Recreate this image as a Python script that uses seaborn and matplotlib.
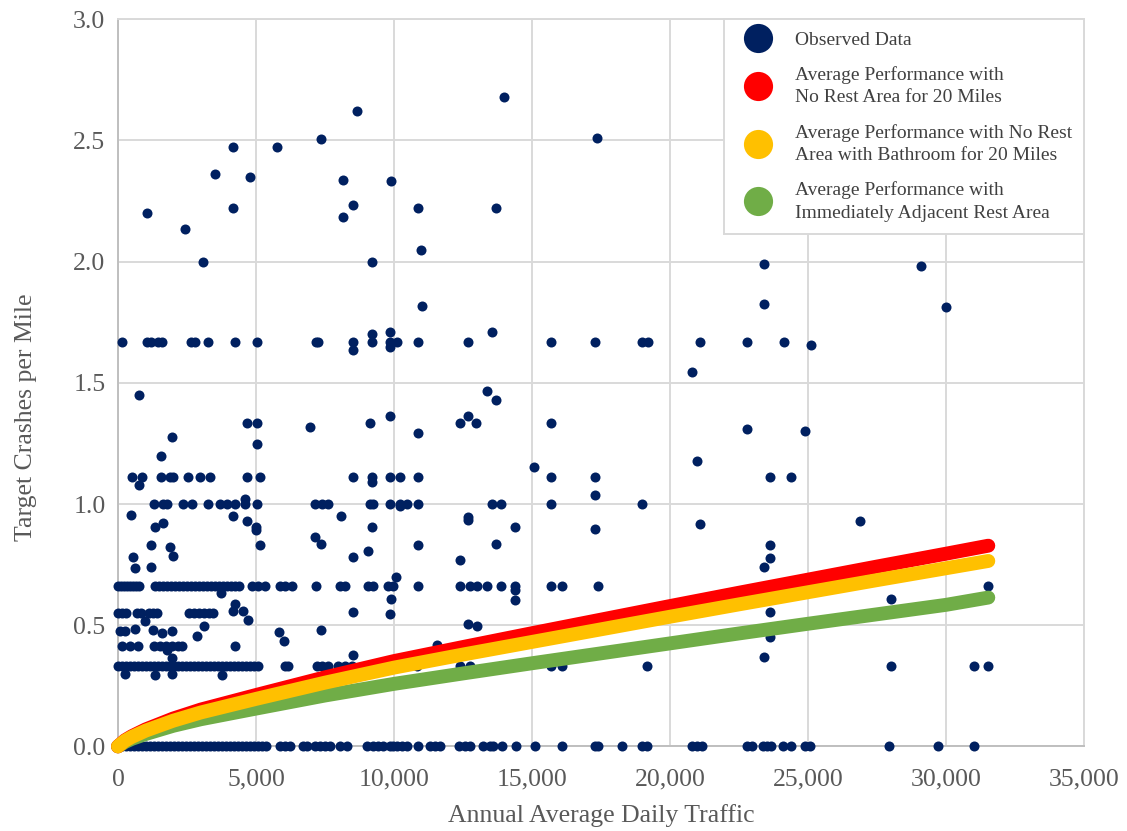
import numpy as np
import pandas as pd
import seaborn as sns
import matplotlib.pyplot as plt
from matplotlib.lines import Line2D

sns.set_theme(style="white")
plt.rcParams['font.family'] = ['Liberation Serif', 'DejaVu Serif']

# ---------------- data ----------------
# observed points lying on common crash-rate rows
row_rates = [0.0, 0.33, 0.413, 0.552, 0.663, 1.0, 1.11, 1.333, 1.67]
row0_aadt = [0, 145, 290, 435, 580, 725, 870, 1014, 1159, 1304, 1449, 1594, 1739, 1884, 2029, 2174,
             2319, 2464, 2609, 2753, 2898, 3043, 3188, 3333, 3478, 3623, 3768, 3913, 4058, 4203, 4348,
             4493, 4638, 4782, 4927, 5072, 5217, 5362, 5869, 6050, 6232, 6703, 6848, 7137, 7318, 7500,
             7681, 8043, 8297, 9021, 9239, 9420, 9601, 9855, 9963, 10108, 10289, 10470, 10869, 11303,
             11484, 11666, 12366, 12572, 12753, 13235, 13478, 13598, 13902, 14420, 15108, 16086, 17293,
             17380, 18271, 18974, 19155, 20785, 20966, 21147, 22778, 22959, 23357, 23502, 23647, 24104,
             24394, 24901, 25071, 27933, 29719, 31024]
row033_aadt = [18, 145, 290, 435, 580, 725, 870, 1014, 1159, 1304, 1449, 1594, 1739, 1884, 2029, 2174,
               2319, 2464, 2609, 2753, 2898, 3043, 3188, 3333, 3478, 3623, 3768, 3913, 4058, 4203,
               4348, 4493, 4638, 4782, 4927, 5072, 6050, 6170, 7199, 7391, 7619, 7982, 8224, 8467,
               9130, 9250, 9916, 10833, 12391, 12753, 13876, 15688, 16086, 19177, 27995, 31024, 31531]
row042_aadt = [134, 435, 735, 1304, 1522, 1739, 1956, 2174, 2319, 4239]
row056_aadt = [18, 145, 290, 688, 833, 1123, 1268, 1413, 2572, 2753, 2935, 3116, 3297, 3442]
row067_aadt = [18, 109, 217, 326, 435, 543, 652, 761, 1341, 1485, 1630, 1775, 1920, 2065, 2210, 2355,
               2500, 2645, 2790, 2935, 3080, 3224, 3369, 3514, 3659, 3804, 3949, 4094, 4239, 4384,
               4855, 5072, 5326, 5869, 6050, 6304, 7174, 8043, 8224, 9068, 9250, 9793, 9974, 10858,
               12391, 12753, 12996, 13369, 13876, 14394, 15688, 16086, 17380, 31531]
row100_aadt = [1304, 1641, 1764, 2366, 2670, 3250, 3695, 3938, 4239, 4601, 5025, 7137, 7380, 7619,
               9130, 9250, 9855, 10217, 10460, 10880, 13561, 13876, 15688, 18974]
row111_aadt = [496, 859, 1558, 1884, 1982, 2547, 2971, 3333, 4663, 5145, 8525, 9192, 9855, 10217,
               10880, 15688, 17293, 23611, 24394]
row133_aadt = [4663, 5025, 9130, 12391, 12981, 15688]
row167_aadt = [156, 1040, 1185, 1460, 1583, 2645, 2790, 3250, 4239, 5025, 7174, 7257, 8525, 9213,
               9855, 10097, 10880, 12670, 15688, 17293, 18974, 19191, 21097, 22789, 24118]

# other observed points
scatter_aadt = [1062, 2438, 3069, 3525, 4156, 4156, 4782, 5761, 7355, 8648, 8163, 8514, 8163, 9213,
                9880, 10858, 10967, 13996, 17365, 13695, 23415, 23415, 29093, 29998, 11003,
                8525, 9213, 9855, 9855, 13561, 20785, 772, 13369, 13695, 12670, 9855, 5025, 6956,
                10880, 22789, 24901, 1956, 1558, 20977, 15083, 25097,
                772, 9192, 17293, 4601, 10217,
                471, 4156, 8079, 4663, 4989, 4989, 1641, 1341, 9213, 12670, 12670, 14394, 17293,
                21097, 26894,
                1196, 1884, 5145, 7344, 10880, 13695, 23611, 7137,
                533, 616, 1196, 2004, 8525, 9068, 12391, 23611, 23415, 10072,
                14394, 14394, 9891, 9855, 8525, 3732, 4239, 4177, 4540, 4699, 27995, 23611,
                3116, 978, 1279, 1583, 1946, 616, 72, 254, 12670, 12996, 5822, 6025, 7355, 2851,
                11568, 8525, 10797, 23415, 23611, 1764, 1946,
                254, 1341, 1946, 3757, 7500]
scatter_rate = [2.200, 2.133, 2.000, 2.361, 2.473, 2.222, 2.348, 2.473, 2.505, 2.621, 2.337, 2.232,
                2.186, 2.000, 2.333, 2.222, 2.048, 2.678, 2.509, 2.222, 1.990, 1.826, 1.981, 1.811,
                1.816,
                1.637, 1.700, 1.709, 1.647, 1.709, 1.543, 1.449, 1.468, 1.427, 1.363, 1.363, 1.249,
                1.316, 1.293, 1.310, 1.302, 1.276, 1.199, 1.177, 1.153, 1.658,
                1.078, 1.089, 1.037, 1.020, 0.990,
                0.953, 0.949, 0.949, 0.929, 0.907, 0.891, 0.921, 0.904, 0.907, 0.945, 0.936, 0.907,
                0.896, 0.918, 0.931,
                0.831, 0.824, 0.831, 0.834, 0.831, 0.834, 0.830, 0.863,
                0.783, 0.735, 0.739, 0.786, 0.783, 0.807, 0.770, 0.779, 0.739, 0.698,
                0.646, 0.602, 0.607, 0.547, 0.553, 0.632, 0.588, 0.557, 0.557, 0.520, 0.609, 0.553,
                0.498, 0.516, 0.481, 0.468, 0.475, 0.484, 0.475, 0.475, 0.503, 0.498, 0.470, 0.433,
                0.481, 0.454,
                0.417, 0.377, 0.372, 0.370, 0.451, 0.398, 0.363,
                0.300, 0.296, 0.300, 0.296, 0.300]

# average-performance curves
curve_aadt = [0, 250, 500, 1000, 2000, 3000, 5000, 7500, 10000, 12500, 15000, 17500, 20000, 22500,
              25000, 27500, 30000, 31531]
red_rate = [0, 0.025, 0.042, 0.070, 0.115, 0.152, 0.212, 0.285, 0.352, 0.410, 0.467, 0.523, 0.579,
            0.634, 0.688, 0.742, 0.795, 0.828]
orange_rate = [0, 0.023, 0.039, 0.065, 0.106, 0.140, 0.196, 0.263, 0.325, 0.379, 0.431, 0.483,
               0.535, 0.586, 0.636, 0.686, 0.735, 0.765]
green_rate = [0, 0.018, 0.031, 0.051, 0.085, 0.112, 0.156, 0.210, 0.258, 0.301, 0.343, 0.384,
              0.425, 0.466, 0.506, 0.545, 0.584, 0.614]

labels = ["Observed Data",
          "Average Performance with\nNo Rest Area for 20 Miles",
          "Average Performance with No Rest\nArea with Bathroom for 20 Miles",
          "Average Performance with\nImmediately Adjacent Rest Area"]
colors = ["#002060", "#FF0000", "#FFC000", "#70AD47"]
x_ticks = [0, 5000, 10000, 15000, 20000, 25000, 30000, 35000]
y_ticks = [0.0, 0.5, 1.0, 1.5, 2.0, 2.5, 3.0]

# ---------------- build observed frame ----------------
rows = [row0_aadt, row033_aadt, row042_aadt, row056_aadt, row067_aadt, row100_aadt, row111_aadt,
        row133_aadt, row167_aadt]
obs_x, obs_y = [], []
for r, xs in zip(row_rates, rows):
    obs_x += list(xs)
    obs_y += [r] * len(xs)
obs_x += scatter_aadt
obs_y += scatter_rate
obs = pd.DataFrame({"AADT": obs_x, "rate": obs_y})

# ---------------- figure ----------------
fig = plt.figure(figsize=(11.27, 8.31), dpi=100)
ax = fig.add_axes([0.1047, 0.1018, 0.8572, 0.8751])

sns.scatterplot(data=obs, x="AADT", y="rate", ax=ax, color=colors[0], s=52, linewidth=0,
                legend=False, zorder=3, clip_on=False)

for ys, c, z in [(green_rate, colors[3], 4), (red_rate, colors[1], 5), (orange_rate, colors[2], 6)]:
    sns.lineplot(x=curve_aadt, y=ys, ax=ax, color=c, linewidth=10, legend=False, sort=False,
                 estimator=None)
    ln = ax.lines[-1]
    ln.set_solid_capstyle('round')
    ln.set_zorder(z)
    ln.set_clip_on(False)

ax.set_xlim(0, 35000)
ax.set_ylim(0, 3.0)
ax.set_xticks(x_ticks)
ax.set_yticks(y_ticks)
ax.set_xticklabels([f"{v:,}" for v in x_ticks])
ax.set_yticklabels([f"{v:.1f}" for v in y_ticks])
ax.grid(True, color="#D9D9D9", linewidth=1.4)
ax.set_axisbelow(True)
for side in ["top", "right"]:
    ax.spines[side].set_color("#D9D9D9")
    ax.spines[side].set_linewidth(1.4)
for side in ["left", "bottom"]:
    ax.spines[side].set_color("#BFBFBF")
    ax.spines[side].set_linewidth(1.4)
ax.tick_params(axis="both", length=0, labelsize=18.5, labelcolor="#595959")
ax.tick_params(axis="x", pad=16)
ax.tick_params(axis="y", pad=9)

ax.set_xlabel("Annual Average Daily Traffic", fontsize=18.5, color="#595959")
ax.set_ylabel("Target Crashes per Mile", fontsize=18.5, color="#595959")
ax.xaxis.set_label_coords(0.5, -0.079)
ax.yaxis.set_label_coords(-0.084, 0.453)

handles = [Line2D([], [], marker='o', linestyle='', markersize=21, markerfacecolor=c,
                  markeredgewidth=0) for c in colors]
leg = ax.legend(handles, labels, loc="upper right", bbox_to_anchor=(1.0, 1.0), borderaxespad=0,
                frameon=True, fancybox=False, framealpha=1, edgecolor="#D9D9D9", fontsize=14,
                labelspacing=0.9, handletextpad=0.8, borderpad=0.62, handlelength=2.2)
leg.get_frame().set_linewidth(1.4)
leg.set_zorder(10)
for t in leg.get_texts():
    t.set_color("#404040")
    t.set_linespacing(1.4)

fig.savefig("out.png", dpi=100)
